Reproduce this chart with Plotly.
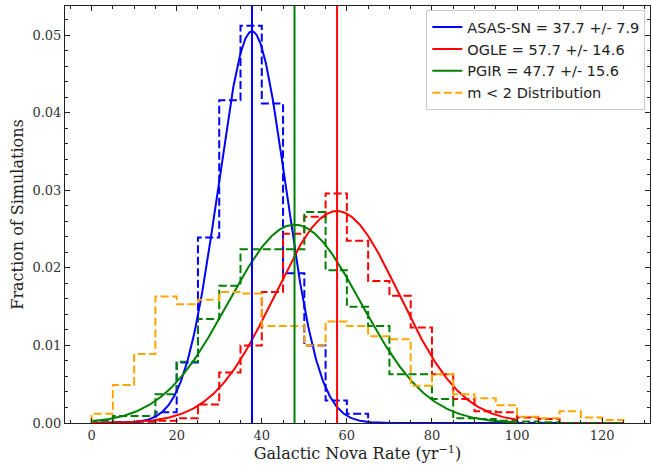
import numpy as np
import plotly.graph_objects as go

# Histogram bin edges (width 5, from 0 to 125)
bin_edges = list(range(0, 130, 5))

# Normalised histogram heights per bin (25 bins)
asassn_hist = [0.0, 0.0, 0.0002, 0.0014, 0.0078, 0.0239, 0.0416, 0.0512, 0.0412, 0.0193,
               0.0100, 0.0029, 0.0012, 0.0, 0.0, 0.0, 0.0, 0.0, 0.0, 0.0,
               0.0, 0.0, 0.0, 0.0, 0.0]
ogle_hist = [0.0, 0.0001, 0.0002, 0.0003, 0.0006, 0.0024, 0.0065, 0.0100, 0.0169, 0.0244,
             0.0266, 0.0296, 0.0235, 0.0183, 0.0164, 0.0123, 0.0063, 0.0031, 0.0015, 0.0014,
             0.0007, 0.0005, 0.0, 0.0, 0.0]
pgir_hist = [0.0003, 0.0009, 0.0009, 0.0037, 0.0079, 0.0134, 0.0177, 0.0224, 0.0224, 0.0224,
             0.0272, 0.0197, 0.0150, 0.0125, 0.0063, 0.0063, 0.0031, 0.0006, 0.0005, 0.0003,
             0.0002, 0.0001, 0.0, 0.0, 0.0]
m2_hist = [0.0012, 0.0049, 0.0089, 0.0163, 0.0153, 0.0159, 0.0169, 0.0167, 0.0125, 0.0125,
           0.0100, 0.0131, 0.0125, 0.0112, 0.0108, 0.0048, 0.0063, 0.0037, 0.0032, 0.0023,
           0.0008, 0.0006, 0.0015, 0.0007, 0.0004]

# Gaussian fits: (label, mean, sigma)
survey_names = ["ASAS-SN", "OGLE", "PGIR"]
survey_means = [37.7, 57.7, 47.7]
survey_sigmas = [7.9, 14.6, 15.6]
survey_hists = [asassn_hist, ogle_hist, pgir_hist]
survey_colors = ["#0000ff", "#ff0000", "#008000"]
m2_color = "#ffa500"

curve_x = np.linspace(0, 100, 500)

SERIF = "DejaVu Serif"
SANS = "DejaVu Sans"
DASH = "8px,3.5px"
LW = 2


def step_xy(edges, heights):
    xs = [edges[0], edges[0]] + list(edges[1:-1]) + [edges[-1]]
    ys = [0.0] + list(heights) + [0.0]
    return xs, ys


fig = go.Figure()

# dashed step histograms
for name, hist, color in zip(survey_names, survey_hists, survey_colors):
    hx, hy = step_xy(bin_edges, hist)
    fig.add_trace(go.Scatter(x=hx, y=hy, mode="lines", line_shape="hv",
                             line=dict(color=color, width=LW, dash=DASH),
                             showlegend=False, hoverinfo="skip"))

# Gaussian curves
for name, mu, sig, color in zip(survey_names, survey_means, survey_sigmas, survey_colors):
    cy = np.exp(-0.5 * ((curve_x - mu) / sig) ** 2) / (sig * np.sqrt(2 * np.pi))
    fig.add_trace(go.Scatter(x=curve_x, y=cy, mode="lines",
                             line=dict(color=color, width=LW),
                             name=f"{name} = {mu} +/- {sig}", legendgroup=name))

mx, my = step_xy(bin_edges, m2_hist)
fig.add_trace(go.Scatter(x=mx, y=my, mode="lines", line_shape="hv",
                         line=dict(color=m2_color, width=LW, dash=DASH),
                         name="m < 2 Distribution", legendgroup="m2"))

# vertical lines at the fitted means
for mu, color in zip(survey_means, survey_colors):
    fig.add_vline(x=mu, line=dict(color=color, width=LW))

ymax = max(max(h) for h in survey_hists + [m2_hist]) * 1.05

axis_common = dict(
    showgrid=False, zeroline=False,
    showline=True, linecolor="#222", linewidth=1, mirror="allticks",
    ticks="inside", ticklen=5, tickwidth=1, tickcolor="#222",
    tickfont=dict(family=SERIF, size=13, color="#333"),
)

fig.update_xaxes(
    range=[-6.25, 131.25], dtick=20, tick0=0,
    minor=dict(dtick=5, ticks="inside", ticklen=3, tickcolor="#222", showgrid=False),
    title=dict(text="Galactic Nova Rate (yr<sup>−1</sup>)",
               font=dict(family=SERIF, size=16, color="#222"), standoff=6),
    **axis_common,
)
fig.update_yaxes(
    range=[0, ymax], dtick=0.01, tick0=0, tickformat=".2f",
    minor=dict(dtick=0.002, ticks="inside", ticklen=3, tickcolor="#222", showgrid=False),
    title=dict(text="Fraction of Simulations",
               font=dict(family=SERIF, size=16, color="#222"), standoff=4),
    **axis_common,
)

fig.update_layout(
    width=652, height=466,
    margin=dict(l=65, r=2, t=6, b=43),
    paper_bgcolor="white", plot_bgcolor="white",
    legend=dict(x=0.992, y=0.99, xanchor="right", yanchor="top",
                bgcolor="rgba(255,255,255,0.8)", bordercolor="#cccccc", borderwidth=1,
                font=dict(family=SANS, size=14.5, color="#222"),
                tracegroupgap=0, itemwidth=30),
)

fig.write_html("out.html")
